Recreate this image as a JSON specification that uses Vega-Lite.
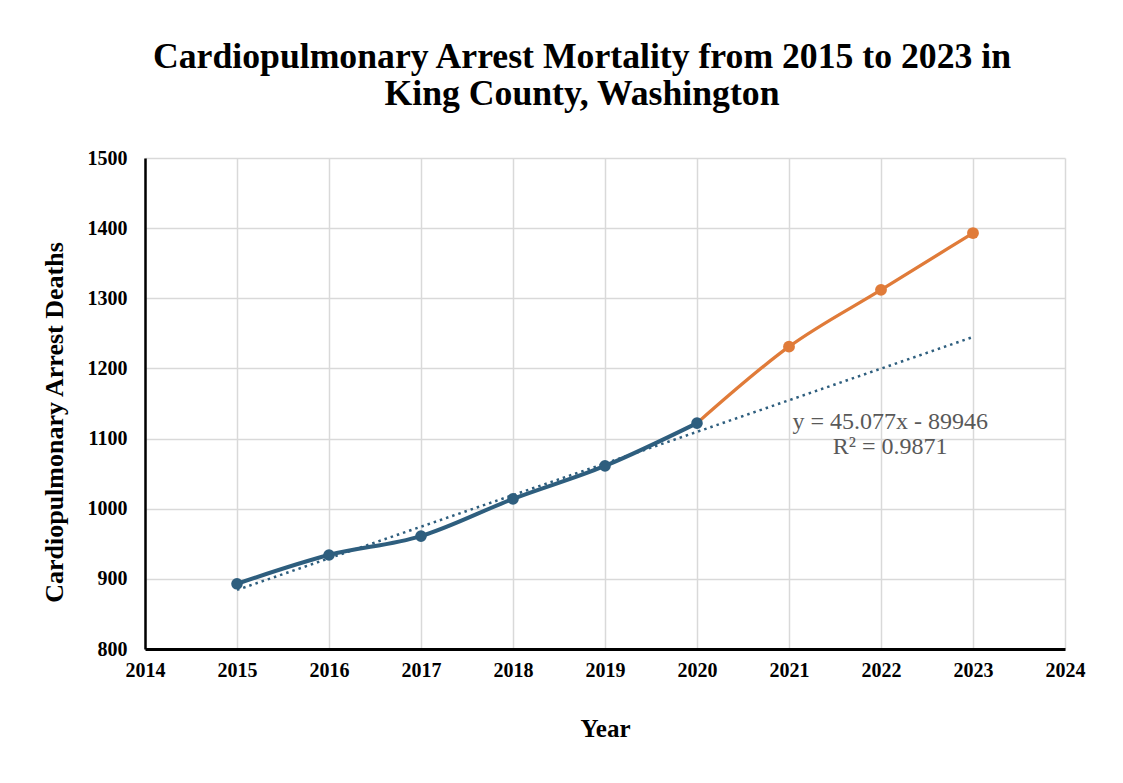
{
  "$schema": "https://vega.github.io/schema/vega-lite/v6.json",
  "autosize": {"type": "none"},
  "width": 920,
  "height": 491,
  "padding": {"left": 145, "top": 158, "right": 58, "bottom": 134},
  "background": "white",
  "config": {
    "font": "Liberation Serif",
    "view": {"stroke": null}
  },
  "title": {
    "text": ["Cardiopulmonary Arrest Mortality from 2015 to 2023 in", "King County, Washington"],
    "font": "Liberation Serif",
    "fontSize": 35.7,
    "fontWeight": "bold",
    "color": "black",
    "lineHeight": 37,
    "anchor": "middle",
    "dx": -23,
    "offset": 35
  },
  "datasets": {
    "observed": [
      {"year": 2015, "deaths": 893},
      {"year": 2016, "deaths": 934},
      {"year": 2017, "deaths": 961},
      {"year": 2018, "deaths": 1014},
      {"year": 2019, "deaths": 1061},
      {"year": 2020, "deaths": 1122}
    ],
    "recent": [
      {"year": 2020, "deaths": 1122, "marker": false},
      {"year": 2021, "deaths": 1231, "marker": true},
      {"year": 2022, "deaths": 1312, "marker": true},
      {"year": 2023, "deaths": 1393, "marker": true}
    ],
    "trend": [
      {"year": 2015, "deaths": 884.2},
      {"year": 2023, "deaths": 1244.8}
    ],
    "equation": [
      {"year": 2022.1, "deaths": 1114, "label": ["y = 45.077x - 89946", "R² = 0.9871"]}
    ]
  },
  "encoding": {
    "x": {
      "field": "year",
      "type": "quantitative",
      "scale": {"domain": [2014, 2024], "nice": false, "zero": false},
      "axis": {
        "title": "Year",
        "values": [2014, 2015, 2016, 2017, 2018, 2019, 2020, 2021, 2022, 2023, 2024],
        "format": "d",
        "ticks": false,
        "grid": true,
        "gridColor": "#d9d9d9",
        "gridWidth": 1.5,
        "domainColor": "black",
        "domainWidth": 3,
        "labelFlush": false,
        "labelOverlap": false,
        "labelFont": "Liberation Serif",
        "labelFontSize": 20,
        "labelFontWeight": "bold",
        "labelColor": "black",
        "labelPadding": 11,
        "titleFont": "Liberation Serif",
        "titleFontSize": 25,
        "titleFontWeight": "bold",
        "titleColor": "black",
        "titlePadding": 36
      }
    },
    "y": {
      "field": "deaths",
      "type": "quantitative",
      "scale": {"domain": [800, 1500], "nice": false, "zero": false},
      "axis": {
        "title": "Cardiopulmonary Arrest Deaths",
        "values": [800, 900, 1000, 1100, 1200, 1300, 1400, 1500],
        "format": "d",
        "ticks": false,
        "grid": true,
        "gridColor": "#d9d9d9",
        "gridWidth": 1.5,
        "domainColor": "black",
        "domainWidth": 2.5,
        "labelFlush": false,
        "labelOverlap": false,
        "labelFont": "Liberation Serif",
        "labelFontSize": 20,
        "labelFontWeight": "bold",
        "labelColor": "black",
        "labelPadding": 18,
        "titleFont": "Liberation Serif",
        "titleFontSize": 26,
        "titleFontWeight": "bold",
        "titleColor": "black",
        "titleAngle": 270,
        "titleAlign": "center",
        "titleBaseline": "alphabetic",
        "titleX": -83,
        "titleY": 264
      }
    }
  },
  "layer": [
    {
      "data": {"name": "recent"},
      "mark": {"type": "line", "color": "#E07B39", "strokeWidth": 3.3, "interpolate": "monotone"}
    },
    {
      "data": {"name": "recent"},
      "transform": [{"filter": "datum.marker"}],
      "mark": {"type": "point", "filled": true, "color": "#E07B39", "size": 140, "opacity": 1}
    },
    {
      "data": {"name": "observed"},
      "mark": {"type": "line", "color": "#2E5E7E", "strokeWidth": 4, "interpolate": "monotone"}
    },
    {
      "data": {"name": "observed"},
      "mark": {"type": "point", "filled": true, "color": "#2E5E7E", "size": 135, "opacity": 1}
    },
    {
      "data": {"name": "trend"},
      "mark": {"type": "line", "color": "#2E5E7E", "strokeWidth": 2.5, "strokeDash": [2.5, 4]}
    },
    {
      "data": {"name": "equation"},
      "mark": {"type": "text", "align": "center", "baseline": "alphabetic", "font": "Liberation Serif", "fontSize": 24, "color": "#595959", "lineHeight": 25},
      "encoding": {"text": {"field": "label"}}
    }
  ]
}
